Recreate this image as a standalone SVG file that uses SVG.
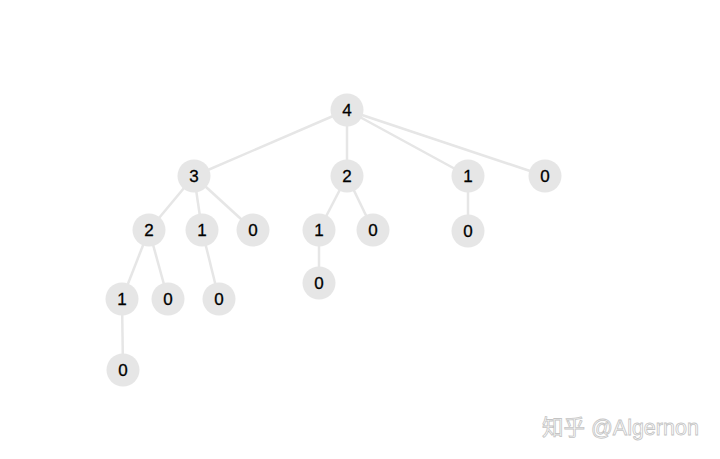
<svg xmlns="http://www.w3.org/2000/svg" width="720" height="459" viewBox="0 0 720 459">
<style>
.e{stroke:#e6e6e6;stroke-width:2.5;fill:none}
.n circle{fill:#e6e6e6}
.n text{font-family:"Liberation Sans",Arial,sans-serif;font-size:17px;fill:#000;stroke:#000;stroke-width:0.3;text-anchor:middle;dominant-baseline:central}
.wm{font-family:"Liberation Sans","Noto Sans CJK SC",sans-serif;font-size:21.5px;fill:#fff;stroke:#c4c4c4;stroke-width:0.8}
</style>
<rect width="720" height="459" fill="#fff"/>
<g id="connectors">
<line class="e" x1="347" y1="110" x2="194" y2="176"/>
<line class="e" x1="347" y1="110" x2="347" y2="176"/>
<line class="e" x1="347" y1="110" x2="468" y2="176"/>
<line class="e" x1="347" y1="110" x2="545" y2="176"/>
<line class="e" x1="194" y1="176" x2="149" y2="230"/>
<line class="e" x1="194" y1="176" x2="202" y2="230"/>
<line class="e" x1="194" y1="176" x2="253" y2="230"/>
<line class="e" x1="347" y1="176" x2="319" y2="230"/>
<line class="e" x1="347" y1="176" x2="373" y2="230"/>
<line class="e" x1="468" y1="176" x2="468" y2="231"/>
<line class="e" x1="149" y1="230" x2="122" y2="299"/>
<line class="e" x1="149" y1="230" x2="168" y2="299"/>
<line class="e" x1="202" y1="230" x2="219" y2="299"/>
<line class="e" x1="319" y1="230" x2="319" y2="283"/>
<line class="e" x1="122" y1="299" x2="123" y2="370"/>
</g>
<g id="n4" class="n"><circle cx="347" cy="110" r="16.5"/><text x="347" y="110">4</text></g>
<g id="n3" class="n"><circle cx="194" cy="176" r="16.5"/><text x="194" y="176">3</text></g>
<g id="n2a" class="n"><circle cx="347" cy="176" r="16.5"/><text x="347" y="176">2</text></g>
<g id="n1a" class="n"><circle cx="468" cy="176" r="16.5"/><text x="468" y="176">1</text></g>
<g id="n0a" class="n"><circle cx="545" cy="176" r="16.5"/><text x="545" y="176">0</text></g>
<g id="n2b" class="n"><circle cx="149" cy="230" r="16.5"/><text x="149" y="230">2</text></g>
<g id="n1b" class="n"><circle cx="202" cy="230" r="16.5"/><text x="202" y="230">1</text></g>
<g id="n0b" class="n"><circle cx="253" cy="230" r="16.5"/><text x="253" y="230">0</text></g>
<g id="n1c" class="n"><circle cx="319" cy="230" r="16.5"/><text x="319" y="230">1</text></g>
<g id="n0c" class="n"><circle cx="373" cy="230" r="16.5"/><text x="373" y="230">0</text></g>
<g id="n0d" class="n"><circle cx="468" cy="231" r="16.5"/><text x="468" y="231">0</text></g>
<g id="n1d" class="n"><circle cx="122" cy="299" r="16.5"/><text x="122" y="299">1</text></g>
<g id="n0e" class="n"><circle cx="168" cy="299" r="16.5"/><text x="168" y="299">0</text></g>
<g id="n0f" class="n"><circle cx="219" cy="299" r="16.5"/><text x="219" y="299">0</text></g>
<g id="n0g" class="n"><circle cx="319" cy="283" r="16.5"/><text x="319" y="283">0</text></g>
<g id="n0h" class="n"><circle cx="123" cy="370" r="16.5"/><text x="123" y="370">0</text></g>
<text class="wm" x="542" y="435">知乎 @Algernon</text>
</svg>
